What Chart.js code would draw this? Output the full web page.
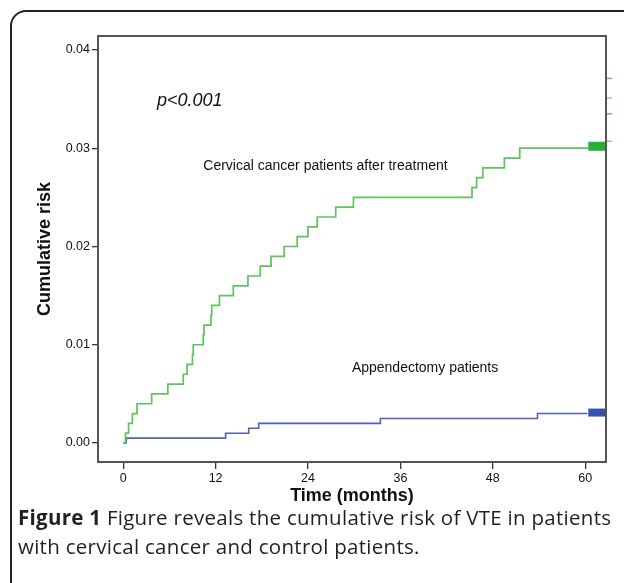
<!DOCTYPE html>
<html lang="en">
<head>
    <meta charset="UTF-8">
    <title>Cumulative risk of VTE</title>
    <script src="https://cdn.jsdelivr.net/npm/chart.js"></script>
    <style>
        html, body { margin: 0; padding: 0; background: #fff; overflow: hidden; }
        body { width: 624px; height: 583px; position: relative; }
        .frame { position: absolute; left: 10px; top: 10px; width: 640px; height: 600px; border: 2px solid #222; border-radius: 16px; box-sizing: border-box; }
        .chart-box { position: absolute; left: 0; top: 0; width: 624px; height: 520px; }
        .caption { position: absolute; left: 18px; top: 503px; width: 610px; font-family: "Open Sans", sans-serif; font-size: 20.5px; letter-spacing: 0.28px; line-height: 29px; color: #231f20; white-space: nowrap; }
        .caption b { font-weight: 700; }
    </style>
</head>
<body>
    <div class="frame"></div>
    <div class="chart-box"><canvas id="kmChart"></canvas></div>
    <div class="caption"><b>Figure 1</b> Figure reveals the cumulative risk of VTE in patients<br>with cervical cancer and control patients.</div>
    <script>
        // cervical cancer patients after treatment (months, cumulative risk)
        const cancerTime = [0, 0.3, 0.7, 1.2, 1.8, 3.7, 5.8, 7.8, 8.3, 9.0, 9.1, 10.4, 10.5, 11.4, 11.5, 12.5, 14.3, 16.2, 17.8, 19.2, 20.9, 22.6, 24.0, 25.2, 27.6, 29.9, 45.3, 45.9, 46.7, 49.5, 51.5, 60.4];
        const cancerRisk = [0, 0.001, 0.002, 0.003, 0.004, 0.005, 0.006, 0.007, 0.008, 0.009, 0.010, 0.011, 0.012, 0.013, 0.014, 0.015, 0.016, 0.017, 0.018, 0.019, 0.020, 0.021, 0.022, 0.023, 0.024, 0.025, 0.026, 0.027, 0.028, 0.029, 0.030, 0.030];
        // appendectomy patients
        const appendTime = [0, 0.4, 13.3, 16.3, 17.6, 33.4, 53.8, 60.3];
        const appendRisk = [0, 0.0005, 0.001, 0.0015, 0.002, 0.0025, 0.003, 0.003];
        // censored cluster at end of follow-up
        const censorTime = [60.4, 62.7];
        const cancerCensorRisk = 0.0302;
        const appendCensorRisk = 0.0031;
        // small marks outside the right edge
        const sideMarkTime = [62.7, 63.5];
        const sideMarksBlue = [0.0371, 0.0335];
        const sideMarksGreen = [0.0351, 0.0307];
        const xTicks = [0, 12, 24, 36, 48, 60];
        const yTicks = [0, 0.01, 0.02, 0.03, 0.04];
        const notes = [
            { text: 'p<0.001', x: 4.4, y: 0.0348, font: 'italic 18px "Liberation Sans", Arial, sans-serif' },
            { text: 'Cervical cancer patients after treatment', x: 10.4, y: 0.0282, font: '14px "Liberation Sans", Arial, sans-serif' },
            { text: 'Appendectomy patients', x: 29.7, y: 0.0076, font: '14px "Liberation Sans", Arial, sans-serif' }
        ];

        const green = '#5ec35e';
        const blue = '#5062b8';
        const axisFont = '"Liberation Sans", Arial, sans-serif';
        const pts = (xs, ys) => xs.map((x, i) => ({ x: x, y: ys[i] }));
        const flat = (xs, v) => xs.map(x => ({ x: x, y: v }));

        const sideSets = [];
        sideMarksBlue.forEach(v => sideSets.push({ data: flat(sideMarkTime, v), borderColor: '#8f93d6', borderWidth: 1.5, pointRadius: 0, clip: false }));
        sideMarksGreen.forEach(v => sideSets.push({ data: flat(sideMarkTime, v), borderColor: '#86d886', borderWidth: 1.5, pointRadius: 0, clip: false }));

        const frameAndNotes = {
            id: 'frameAndNotes',
            afterDatasetsDraw(chart) {
                const { ctx, chartArea: a, scales } = chart;
                ctx.save();
                ctx.strokeStyle = '#555';
                ctx.lineWidth = 2;
                ctx.strokeRect(a.left, a.top, a.right - a.left, a.bottom - a.top);
                ctx.fillStyle = '#111';
                ctx.textBaseline = 'middle';
                ctx.textAlign = 'left';
                notes.forEach(n => {
                    ctx.font = n.font;
                    ctx.fillText(n.text, scales.x.getPixelForValue(n.x), scales.y.getPixelForValue(n.y));
                });
                ctx.restore();
            }
        };

        new Chart(document.getElementById('kmChart'), {
            type: 'line',
            data: {
                datasets: [
                    { data: pts(cancerTime, cancerRisk), borderColor: green, borderWidth: 1.7, stepped: true, pointRadius: 0 },
                    { data: pts(appendTime, appendRisk), borderColor: blue, borderWidth: 1.6, stepped: true, pointRadius: 0 },
                    { data: flat(censorTime, cancerCensorRisk), borderColor: '#22b036', borderWidth: 9, pointRadius: 0, borderCapStyle: 'butt' },
                    { data: flat(censorTime, appendCensorRisk), borderColor: '#3a50b0', borderWidth: 8, pointRadius: 0, borderCapStyle: 'butt' }
                ].concat(sideSets)
            },
            options: {
                responsive: true,
                maintainAspectRatio: false,
                animation: false,
                layout: { padding: { top: 36, right: 18, left: 0, bottom: 0 } },
                plugins: { legend: { display: false }, tooltip: { enabled: false } },
                scales: {
                    x: {
                        type: 'linear',
                        min: -3.27,
                        max: 62.7,
                        afterBuildTicks: s => { s.ticks = xTicks.map(v => ({ value: v })); },
                        afterFit: s => { s.height = 58; },
                        grid: { drawOnChartArea: false, tickLength: 7, color: '#333', lineWidth: 1.3 },
                        border: { display: false },
                        ticks: { color: '#111', font: { family: axisFont, size: 12.5 }, padding: 2, maxRotation: 0 },
                        title: { display: true, text: 'Time (months)', color: '#111', font: { family: axisFont, size: 18, weight: 'bold' }, padding: { top: 0, bottom: 13 } }
                    },
                    y: {
                        min: -0.00193,
                        max: 0.04142,
                        afterBuildTicks: s => { s.ticks = yTicks.map(v => ({ value: v })); },
                        afterFit: s => { s.width = 98; },
                        grid: { drawOnChartArea: false, tickLength: 6, color: '#333', lineWidth: 1.3 },
                        border: { display: false },
                        ticks: { color: '#111', font: { family: axisFont, size: 12.5 }, padding: 2, callback: v => v.toFixed(2) },
                        title: { display: true, text: 'Cumulative risk', color: '#111', font: { family: axisFont, size: 18, weight: 'bold' }, padding: { top: 34, bottom: 0 } }
                    }
                }
            },
            plugins: [frameAndNotes]
        });
    </script>
</body>
</html>
